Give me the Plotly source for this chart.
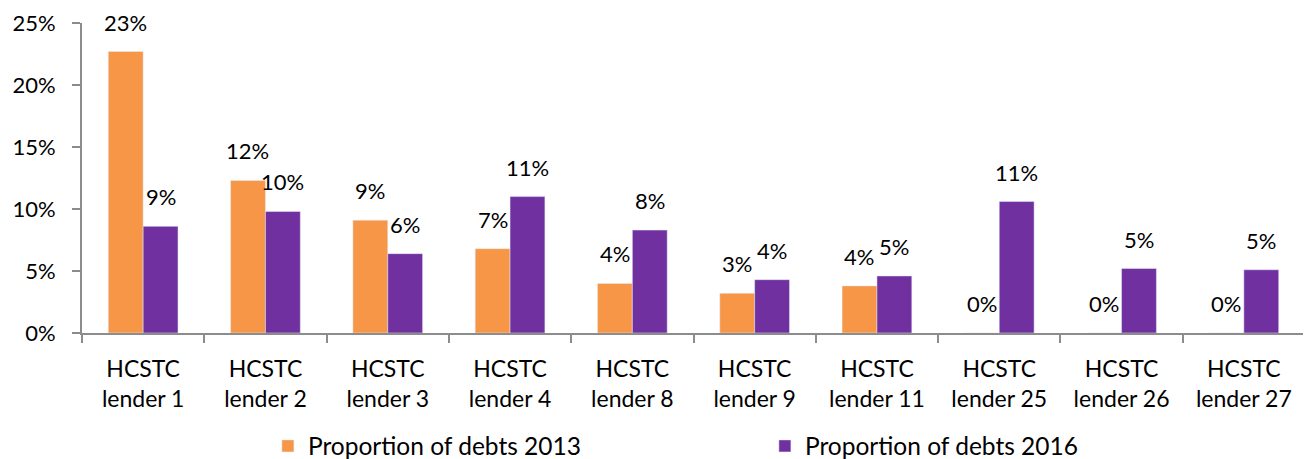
import plotly.graph_objects as go

lenders = ['HCSTC<br>lender 1', 'HCSTC<br>lender 2', 'HCSTC<br>lender 3', 'HCSTC<br>lender 4',
           'HCSTC<br>lender 8', 'HCSTC<br>lender 9', 'HCSTC<br>lender 11', 'HCSTC<br>lender 25',
           'HCSTC<br>lender 26', 'HCSTC<br>lender 27']
debts_2013 = [0.227, 0.123, 0.091, 0.068, 0.040, 0.032, 0.038, 0.0, 0.0, 0.0]
debts_2016 = [0.086, 0.098, 0.064, 0.110, 0.083, 0.043, 0.046, 0.106, 0.052, 0.051]

ORANGE = '#F79646'
PURPLE = '#7030A0'
FONT = 'Lato'
AXIS_GREY = '#8c8c8c'

fig = go.Figure()
fig.add_trace(go.Bar(x=lenders, y=debts_2013, name='Proportion of debts 2013', marker_color=ORANGE))
fig.add_trace(go.Bar(x=lenders, y=debts_2016, name='Proportion of debts 2016', marker_color=PURPLE))

# data labels sit well above the bars, like the excel original
for lab, v13, v16 in zip(lenders, debts_2013, debts_2016):
  for v, shift in ((v13, -17.5), (v16, 17.5)):
    fig.add_annotation(x=lab, y=v, text=f'{v:.0%}', showarrow=False, xshift=shift,
                       yanchor='bottom', yshift=14, font=dict(size=22, color='black', family=FONT))

# page body has an 8px margin, so the figure is a bit smaller than the window
fig.update_layout(
  width=1303, height=451,
  margin=dict(l=74, r=6, t=15, b=126, autoexpand=False),
  plot_bgcolor='white', paper_bgcolor='white',
  font=dict(family=FONT, size=22, color='black'),
  barmode='group', bargap=0.43, bargroupgap=0,
  showlegend=True,
  legend=dict(orientation='h', x=0.152, xanchor='left', y=-0.3645, yanchor='middle',
              entrywidth=452, entrywidthmode='pixels', font=dict(size=24.5),
              traceorder='normal'),
)
fig.update_yaxes(range=[0, 0.25], dtick=0.05, tickformat='.0%', showgrid=False,
                 showline=True, linecolor=AXIS_GREY, linewidth=2, ticks='outside',
                 ticklen=8, tickcolor=AXIS_GREY, tickwidth=2, zeroline=False, ticklabelstandoff=12)
fig.update_xaxes(showline=True, linecolor=AXIS_GREY, linewidth=2, ticks='outside',
                 tickson='boundaries', ticklen=8, tickcolor=AXIS_GREY, tickwidth=2,
                 showgrid=False, tickfont=dict(size=23), ticklabelstandoff=14)

fig.write_html('out.html')
